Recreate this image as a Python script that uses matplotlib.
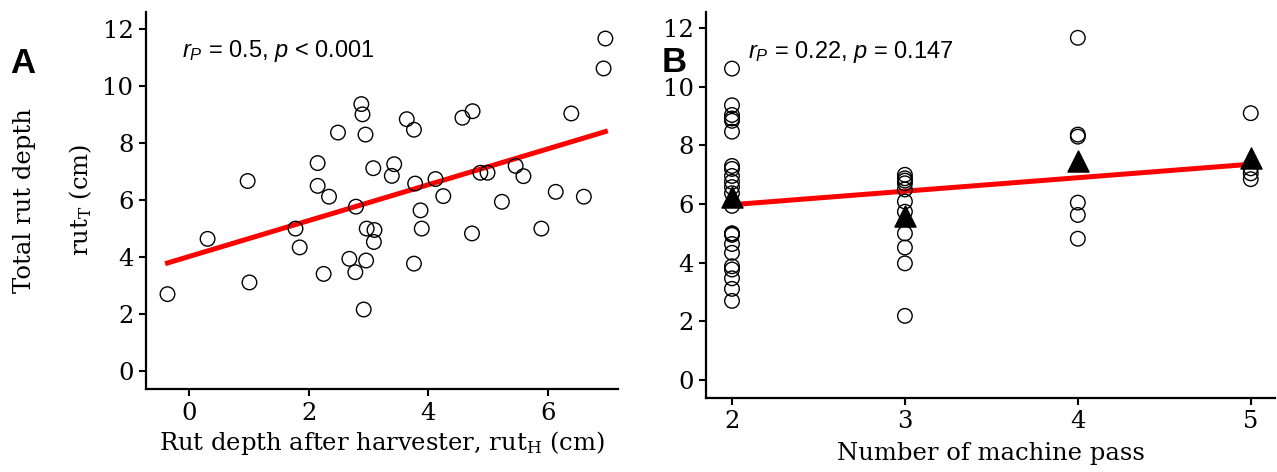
import numpy as np
import matplotlib
matplotlib.use('Agg')
import matplotlib.pyplot as plt

# panel A: rut depth after harvester vs total rut depth
rut_h = [6.96, 6.93, 2.88, 2.90, 2.49, 2.95, 3.64, 3.76, 4.57, 4.74,
         6.39, 0.98, 2.15, 2.15, 2.34, 3.08, 3.43, 3.39, 3.78, 4.12,
         4.25, 4.87, 4.99, 5.46, 5.59, 6.13, 6.60, 5.23, 2.79, 1.78,
         0.31, 1.85, 2.97, 3.10, 3.09, 3.87, 3.89, 4.73, 5.89, 2.68,
         2.96, 2.78, 2.25, 3.76, 1.01, -0.36, 2.92]
rut_t = [11.67, 10.62, 9.37, 9.01, 8.37, 8.30, 8.84, 8.47, 8.89, 9.12,
         9.04, 6.67, 7.30, 6.50, 6.12, 7.12, 7.26, 6.85, 6.58, 6.74,
         6.14, 6.96, 6.96, 7.20, 6.84, 6.29, 6.12, 5.94, 5.77, 5.00,
         4.64, 4.34, 5.00, 4.95, 4.53, 5.64, 5.00, 4.83, 5.00, 3.94,
         3.88, 3.47, 3.41, 3.77, 3.11, 2.70, 2.16]
fit_a = [4.02, 0.63]   # intercept, slope

# panel B: number of machine passes vs total rut depth
pass_2 = [10.62, 9.37, 9.04, 8.92, 8.84, 8.47, 7.30, 7.20, 6.96, 6.76, 6.58,
          6.37, 5.94, 5.00, 5.00, 4.95, 4.64, 4.34, 3.88, 3.77, 3.47, 3.11, 2.70]
pass_3 = [7.00, 6.88, 6.80, 6.71, 6.50, 6.09, 5.74, 5.00, 4.52, 3.98, 2.19]
pass_4 = [11.67, 8.37, 8.30, 6.05, 5.63, 4.82]
pass_5 = [9.10, 7.22, 7.05, 6.85]
passes = [2, 3, 4, 5]
fit_b = [5.06, 0.46]

plt.rcParams['font.family'] = 'DejaVu Serif'
plt.rcParams['mathtext.fontset'] = 'custom'
plt.rcParams['mathtext.rm'] = 'DejaVu Serif'
plt.rcParams['mathtext.it'] = 'Liberation Sans:italic'

fig = plt.figure(figsize=(12.77, 4.72), dpi=100)
axA = fig.add_axes([0.1143, 0.1758, 0.3696, 0.7987])
axB = fig.add_axes([0.5529, 0.1568, 0.4455, 0.8178])

def style(ax):
    for s in ['top', 'right']:
        ax.spines[s].set_visible(False)
    for s in ['left', 'bottom']:
        ax.spines[s].set_linewidth(1.6)
    ax.tick_params(direction='out', length=5, width=1.5, labelsize=17.5, pad=4)
    ax.set_yticks([0, 2, 4, 6, 8, 10, 12])

# A
axA.scatter(rut_h, rut_t, s=110, facecolors='none', edgecolors='black', linewidths=1.0, zorder=3)
xs = np.array([min(rut_h), max(rut_h)])
axA.plot(xs, fit_a[0] + fit_a[1] * xs, color='red', lw=3.6, zorder=2)
axA.set_xlim(-0.72, 7.17)
axA.set_ylim(-0.63, 12.6)
axA.set_xticks([0, 2, 4, 6])
style(axA)
axA.set_xlabel('Rut depth after harvester, rut$_{\\rm H}$ (cm)', fontsize=17.5, labelpad=3)
axA.text(0.076, 0.88, '$r_P$ = 0.5, $p$ < 0.001', transform=axA.transAxes,
         family='Liberation Sans', fontsize=17, va='baseline')

# B
groups = [pass_2, pass_3, pass_4, pass_5]
for p, vals in zip(passes, groups):
    axB.scatter([p] * len(vals), vals, s=110, facecolors='none', edgecolors='black',
                linewidths=1.0, zorder=3)
means = [np.mean(v) for v in groups]
xb = np.array([passes[0], passes[-1]])
axB.plot(xb, fit_b[0] + fit_b[1] * xb, color='red', lw=3.6, zorder=2)
axB.scatter(passes, means, marker='^', s=230, color='black', zorder=4)
axB.set_xlim(1.85, 5.14)
axB.set_ylim(-0.61, 12.55)
axB.set_xticks(passes)
style(axB)
axB.set_xlabel('Number of machine pass', fontsize=17.5, labelpad=6)
axB.text(0.074, 0.88, '$r_P$ = 0.22, $p$ = 0.147', transform=axB.transAxes,
         family='Liberation Sans', fontsize=17, va='baseline')

fig.text(0.019, 0.576, 'Total rut depth', rotation=90, fontsize=17.5, ha='center', va='center')
fig.text(0.063, 0.576, 'rut$_{\\rm T}$ (cm)', rotation=90, fontsize=17.5, ha='center', va='center')
fig.text(0.008, 0.845, 'A', family='Liberation Sans', fontweight='bold', fontsize=25, va='baseline')
fig.text(0.518, 0.847, 'B', family='Liberation Sans', fontweight='bold', fontsize=25, va='baseline')

fig.savefig('out.png', dpi=100)
